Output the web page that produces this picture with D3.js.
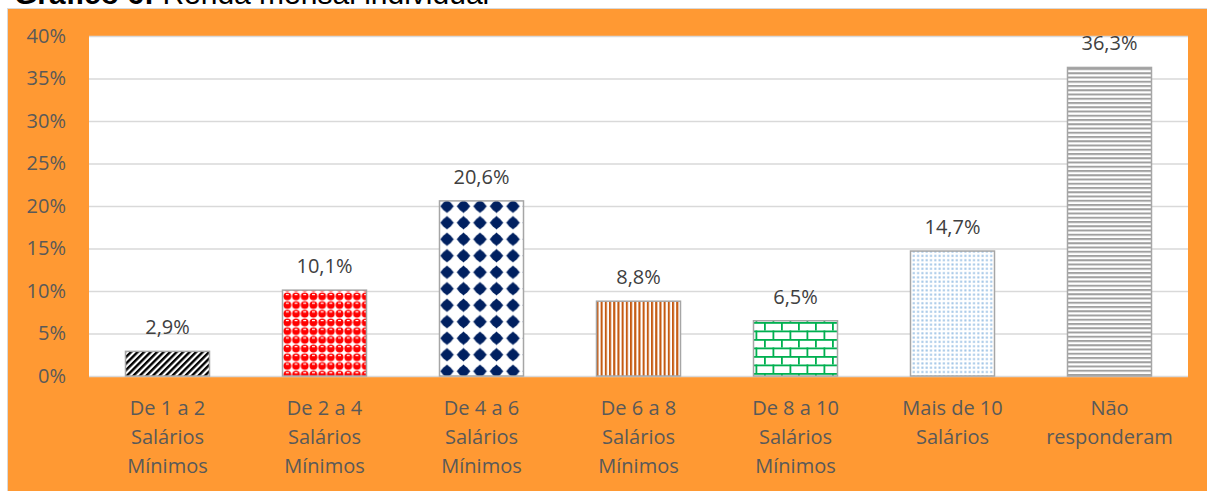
<!DOCTYPE html>
<html>
<head>
<meta charset="utf-8">
<script src="https://cdn.jsdelivr.net/npm/d3@7"></script>
<style>
  body { margin: 0; background: #fff; }
  svg { display: block; }
</style>
</head>
<body>
<svg id="viz"></svg>
<script>
// chart data
var categories = ["De 1 a 2 Salários Mínimos", "De 2 a 4 Salários Mínimos", "De 4 a 6 Salários Mínimos",
    "De 6 a 8 Salários Mínimos", "De 8 a 10 Salários Mínimos", "Mais de 10 Salários", "Não responderam"];
var categoryLines = [
    ["De 1 a 2", "Salários", "Mínimos"],
    ["De 2 a 4", "Salários", "Mínimos"],
    ["De 4 a 6", "Salários", "Mínimos"],
    ["De 6 a 8", "Salários", "Mínimos"],
    ["De 8 a 10", "Salários", "Mínimos"],
    ["Mais de 10", "Salários"],
    ["Não", "responderam"]
];
var values = [2.9, 10.1, 20.6, 8.8, 6.5, 14.7, 36.3];
var valueLabels = ["2,9%", "10,1%", "20,6%", "8,8%", "6,5%", "14,7%", "36,3%"];
var yTicks = [0, 5, 10, 15, 20, 25, 30, 35, 40];
var patternIds = ["pDiag", "pSphere", "pDiamond", "pVert", "pBrick", "pDots", "pHoriz"];

var width = 1207, height = 491;
var plot = { left: 89, right: 1188, top: 36, bottom: 376 };
var font = "'Open Sans', 'Noto Sans', sans-serif";

var svg = d3.select("#viz").attr("width", width).attr("height", height);

// title, cut off at the top of the picture (as in the original)
var title = svg.append("text")
    .attr("x", 14).attr("y", 4)
    .style("font-family", "'Liberation Sans', Arial, sans-serif")
    .style("font-size", "30px")
    .attr("fill", "#000");
title.append("tspan").attr("font-weight", 700).text("Gráfico 6:");
title.append("tspan").text(" Renda mensal individual");

// fill patterns
var defs = svg.append("defs");

var p = defs.append("pattern").attr("id", "pDiag").attr("patternUnits", "userSpaceOnUse")
    .attr("width", 4.6).attr("height", 4.6).attr("patternTransform", "rotate(45)");
p.append("rect").attr("width", 4.6).attr("height", 4.6).attr("fill", "#fff");
p.append("rect").attr("width", 2.4).attr("height", 4.6).attr("fill", "#000");

p = defs.append("pattern").attr("id", "pSphere").attr("patternUnits", "userSpaceOnUse")
    .attr("x", 283).attr("y", 292)
    .attr("width", 8.7).attr("height", 8.7);
p.append("rect").attr("width", 8.7).attr("height", 8.7).attr("fill", "#fff");
p.append("circle").attr("cx", 4.35).attr("cy", 4.35).attr("r", 3.9).attr("fill", "#ff0000");
p.append("rect").attr("x", 2.9).attr("y", 1.9).attr("width", 2.9).attr("height", 1.2).attr("fill", "#fff");

p = defs.append("pattern").attr("id", "pDiamond").attr("patternUnits", "userSpaceOnUse")
    .attr("x", 447 - 8.25).attr("y", 0)
    .attr("width", 16.5).attr("height", 16.5);
p.append("rect").attr("width", 16.5).attr("height", 16.5).attr("fill", "#fff");
p.append("path").attr("d", "M8.25,1.4 L15.1,8.25 L8.25,15.1 L1.4,8.25 Z").attr("fill", "#002060");
p.append("circle").attr("cx", 8.25).attr("cy", 8.25).attr("r", 5.2).attr("fill", "#002060");

p = defs.append("pattern").attr("id", "pVert").attr("patternUnits", "userSpaceOnUse")
    .attr("width", 4.2).attr("height", 10);
p.append("rect").attr("width", 4.2).attr("height", 10).attr("fill", "#fff");
p.append("rect").attr("width", 2.1).attr("height", 10).attr("fill", "#c55a11");

p = defs.append("pattern").attr("id", "pBrick").attr("patternUnits", "userSpaceOnUse")
    .attr("x", 747).attr("y", 322)
    .attr("width", 17).attr("height", 17);
p.append("rect").attr("width", 17).attr("height", 17).attr("fill", "#fff");
p.append("rect").attr("x", 0).attr("y", 0).attr("width", 17).attr("height", 1.8).attr("fill", "#00b050");
p.append("rect").attr("x", 0).attr("y", 8.5).attr("width", 17).attr("height", 1.8).attr("fill", "#00b050");
p.append("rect").attr("x", 0).attr("y", 0).attr("width", 1.8).attr("height", 8.5).attr("fill", "#00b050");
p.append("rect").attr("x", 8.5).attr("y", 8.5).attr("width", 1.8).attr("height", 8.5).attr("fill", "#00b050");

p = defs.append("pattern").attr("id", "pDots").attr("patternUnits", "userSpaceOnUse")
    .attr("width", 4.3).attr("height", 4.3);
p.append("rect").attr("width", 4.3).attr("height", 4.3).attr("fill", "#fff");
p.append("rect").attr("x", 1.2).attr("y", 1.2).attr("width", 2).attr("height", 2).attr("fill", "#9dc3e6");

p = defs.append("pattern").attr("id", "pHoriz").attr("patternUnits", "userSpaceOnUse")
    .attr("width", 10).attr("height", 4.25);
p.append("rect").attr("width", 10).attr("height", 4.25).attr("fill", "#fff");
p.append("rect").attr("width", 10).attr("height", 2).attr("fill", "#a0a0a0");

// orange chart area and white plot area
svg.append("rect")
    .attr("x", 7.5).attr("y", 8.5).attr("width", 1205).attr("height", 490)
    .attr("fill", "#ff9933").attr("stroke", "#d9d9d9").attr("stroke-width", 1);
svg.append("rect")
    .attr("x", plot.left).attr("y", plot.top)
    .attr("width", plot.right - plot.left).attr("height", plot.bottom - plot.top)
    .attr("fill", "#fff");

// scales
var x = d3.scaleBand().domain(categories).range([plot.left, plot.right])
    .paddingInner(0.465).paddingOuter(0.2325);
var y = d3.scaleLinear().domain([0, 40]).range([plot.bottom, plot.top]);

// y axis with gridlines
var yAxis = svg.append("g")
    .attr("transform", "translate(" + plot.left + ",0)")
    .call(d3.axisLeft(y).tickValues(yTicks).tickFormat(function(d) { return d + "%"; })
        .tickSize(-(plot.right - plot.left)).tickPadding(23));
yAxis.select(".domain").remove();
yAxis.selectAll("line").attr("stroke", "#d9d9d9").attr("stroke-width", 1.4);
yAxis.selectAll("text")
    .attr("fill", "#595959")
    .style("font-family", font).style("font-size", "20px");

// x axis labels, several lines each
var xAxis = svg.append("g")
    .attr("transform", "translate(0," + plot.bottom + ")")
    .call(d3.axisBottom(x).tickSize(0));
xAxis.select(".domain").remove();
xAxis.selectAll("text").each(function(d, i) {
    var t = d3.select(this).text(null)
        .attr("y", 0).attr("dy", null)
        .attr("fill", "#595959")
        .style("font-family", font).style("font-size", "20px");
    categoryLines[i].forEach(function(line, j) {
        t.append("tspan").attr("x", 0).attr("y", 39 + j * 29).text(line);
    });
});

// bars
svg.append("g").selectAll("rect")
    .data(values)
    .enter()
    .append("rect")
    .attr("x", function(d, i) { return x(categories[i]); })
    .attr("y", function(d) { return y(d); })
    .attr("width", x.bandwidth())
    .attr("height", function(d) { return y(0) - y(d); })
    .attr("fill", function(d, i) { return "url(#" + patternIds[i] + ")"; })
    .attr("stroke", "#a6a6a6")
    .attr("stroke-width", 1.5);

// value labels
svg.append("g").selectAll("text")
    .data(values)
    .enter()
    .append("text")
    .attr("x", function(d, i) { return x(categories[i]) + x.bandwidth() / 2; })
    .attr("y", function(d) { return y(d) - 17; })
    .attr("text-anchor", "middle")
    .attr("fill", "#404040")
    .style("font-family", font).style("font-size", "20px")
    .text(function(d, i) { return valueLabels[i]; });
</script>
</body>
</html>
